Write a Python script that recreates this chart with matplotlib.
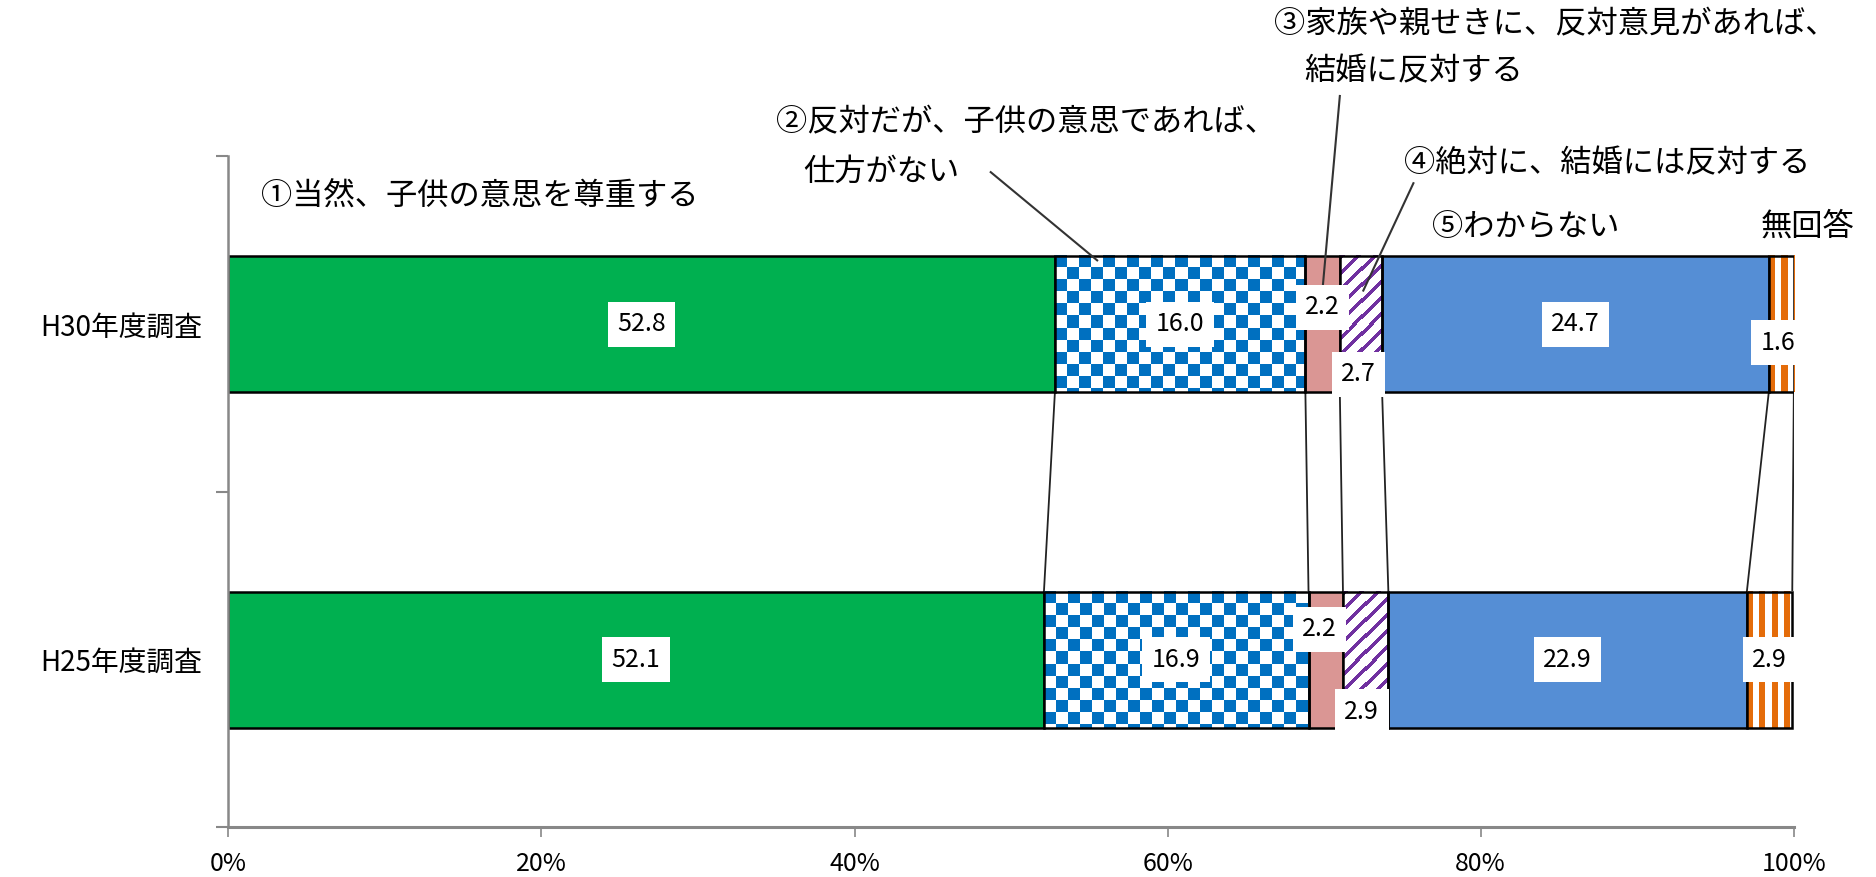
import matplotlib
matplotlib.use("Agg")
from matplotlib import pyplot as plt
import numpy as np

plt.rcParams['font.family'] = ['Noto Sans CJK JP', 'DejaVu Sans']

surveys = ["H30年度調査", "H25年度調査"]
answers = ["①当然、子供の意思を尊重する",
           "②反対だが、子供の意思であれば、\n仕方がない",
           "③家族や親せきに、反対意見があれば、\n結婚に反対する",
           "④絶対に、結婚には反対する",
           "⑤わからない",
           "無回答"]
h30 = np.array([52.8, 16.0, 2.2, 2.7, 24.7, 1.6])
h25 = np.array([52.1, 16.9, 2.2, 2.9, 22.9, 2.9])
xticks = [0, 20, 40, 60, 80, 100]

colors = ["#00B050", "#0070C0", "#DA9694", "#7030A0", "#558ED5", "#E46C0A"]
patterns = [None, "checker", None, "diag", None, "vert"]

# label nudges (in category units) for the thin segments
label_dy = {(0, 2): -0.05, (0, 3): 0.15, (0, 5): 0.055,
            (1, 2): -0.09, (1, 3): 0.155, (1, 5): 0.0}
label_dx = {(1, 2): -0.4, (0, 3): -0.15, (1, 3): -0.25, (0, 5): -0.2}

W, H = 1876, 877
fig = plt.figure(figsize=(W / 100, H / 100), dpi=100)
ax_rect = [0.1217, 0.0566, 0.8345, 0.7651]
ax = fig.add_axes(ax_rect)

bar_h = 0.406
ypos = [0.5, 1.5]
axw_px = ax_rect[2] * W
axh_px = ax_rect[3] * H


def pattern_image(kind, color, w_px, h_px):
    r, c = np.indices((h_px, w_px))
    if kind == "checker":
        mask = ((r // 12 + c // 12) % 2) == 0
    elif kind == "diag":
        mask = ((r + c) % 16) < 5
    else:
        mask = (c % 12) < 6
    rgb = np.array(matplotlib.colors.to_rgb(color))
    img = np.ones((h_px, w_px, 3))
    img[mask] = rgb
    return img


data = [h30, h25]
for i, vals in enumerate(data):
    lefts = np.concatenate([[0], np.cumsum(vals)[:-1]])
    for j, (v, l) in enumerate(zip(vals, lefts)):
        y = ypos[i]
        if patterns[j] is None:
            ax.barh(y, v, left=l, height=bar_h, color=colors[j],
                    edgecolor="black", linewidth=1.8, zorder=2)
        else:
            w_px = max(int(round(v / 100 * axw_px)), 1)
            h_px = int(round(bar_h * axh_px / 2))
            img = pattern_image(patterns[j], colors[j], w_px, h_px)
            ax.imshow(img, extent=(l, l + v, y + bar_h / 2, y - bar_h / 2),
                      origin="upper", aspect="auto", interpolation="nearest",
                      zorder=2)
            ax.barh(y, v, left=l, height=bar_h, facecolor="none",
                    edgecolor="black", linewidth=1.8, zorder=3)
        tx = l + v / 2 + label_dx.get((i, j), 0)
        ty = y + label_dy.get((i, j), 0)
        ax.text(tx, ty, f"{v:.1f}", ha="center", va="center", fontsize=18,
                color="black", zorder=6,
                bbox=dict(boxstyle="square,pad=0.38", facecolor="white",
                          edgecolor="none"))

# series lines between the two bars
cum30 = np.cumsum(h30)
cum25 = np.cumsum(h25)
for a, b in zip(cum30, cum25):
    ax.plot([a, b], [ypos[0] + bar_h / 2, ypos[1] - bar_h / 2],
            color="#222222", linewidth=1.3, zorder=1)

# category annotations
fs = 22.5
ax.text(2.1, 0.12, answers[0], fontsize=fs, ha="left", va="center")
l1, l2 = answers[1].split("\n")
ax.text(35.0, -0.10, l1, fontsize=fs, ha="left", va="center", clip_on=False)
ax.text(36.7, 0.045, l2, fontsize=fs, ha="left", va="center", clip_on=False)
l1, l2 = answers[2].split("\n")
ax.text(66.8, -0.395, l1, fontsize=fs, ha="left", va="center", clip_on=False)
ax.text(68.7, -0.252, l2, fontsize=fs, ha="left", va="center", clip_on=False)
ax.text(75.1, 0.02, answers[3], fontsize=fs, ha="left", va="center")
ax.text(76.9, 0.21, answers[4], fontsize=fs, ha="left", va="center")
ax.text(97.9, 0.21, answers[5], fontsize=fs, ha="left", va="center")

# leader lines
leader = dict(color="#333333", linewidth=1.5, zorder=4, clip_on=False)
ax.plot([48.7, 55.5], [0.047, 0.31], **leader)
ax.plot([71.0, 69.85], [-0.18, 0.42], **leader)
ax.plot([75.7, 72.5], [0.08, 0.40], **leader)

ax.set_xlim(0, 100)
ax.set_ylim(2, 0)
ax.set_aspect("auto")
ax.set_xticks(xticks)
ax.set_xticklabels([f"{t}%" for t in xticks], fontsize=18)
ax.set_yticks([0, 1, 2])
ax.set_yticklabels([])
ax.set_yticks(ypos, minor=True)
ax.set_yticklabels(surveys, minor=True, fontsize=20)
ax.tick_params(axis="y", which="minor", length=0, pad=19)
ax.tick_params(axis="y", which="major", length=9, width=1.5, color="#888888",
               direction="out")
ax.tick_params(axis="x", length=7, width=1.2, color="#888888", pad=10)

for s in ["top", "right"]:
    ax.spines[s].set_visible(False)
ax.spines["left"].set_color("#888888")
ax.spines["left"].set_linewidth(1.8)
ax.spines["bottom"].set_color("#888888")
ax.spines["bottom"].set_linewidth(2.2)

fig.savefig("out.png", dpi=100)
